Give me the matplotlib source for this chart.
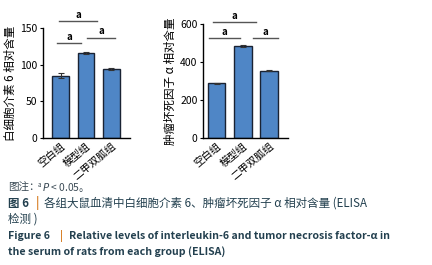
import numpy as np
import matplotlib.pyplot as plt

plt.rcParams['font.family'] = ['Noto Sans CJK SC', 'DejaVu Sans']
plt.rcParams['axes.unicode_minus'] = False

groups = ['空白组', '模型组', '二甲双胍组']
il6 = [85, 116, 94]
il6_err = [3, 1.5, 1]
tnf = [288, 486, 354]
tnf_err = [4, 6, 3]
# significance marks: (x1, x2, y) in data units
il6_sig = [(-0.06, 1.43, 160), (-0.14, 0.8, 129), (1.04, 2.14, 137)]
tnf_sig = [(-0.13, 1.5, 612), (-0.28, 0.9, 525), (1.37, 2.35, 525)]

bar_color = '#4f86c6'
edge_color = '#1a2333'

fig = plt.figure(figsize=(4.32, 2.65), dpi=100)
W, H = 432, 265


def make_ax(x0, x1, y0, y1):
    return fig.add_axes([x0 / W, 1 - y1 / H, (x1 - x0) / W, (y1 - y0) / H])


def draw(ax, vals, errs, sigs, ymax, step, ylabel, xlim):
    x = np.arange(len(vals))
    ax.bar(x, vals, width=0.66, color=bar_color, edgecolor=edge_color, linewidth=1.0, zorder=2)
    ax.errorbar(x, vals, yerr=errs, fmt='none', ecolor='#333333', elinewidth=0.8,
                capsize=2.5, capthick=0.8, zorder=3)
    ax.set_xlim(*xlim)
    ax.set_ylim(0, ymax)
    ax.set_yticks(np.arange(0, ymax + 1, step))
    ax.set_xticks(x)
    ax.set_xticklabels(groups, rotation=40, ha='right', rotation_mode='anchor', fontsize=7.5)
    ax.tick_params(axis='y', labelsize=7.5, length=2.5, width=0.8, pad=1.5)
    ax.tick_params(axis='x', length=0, pad=2)
    for s in ['top', 'right']:
        ax.spines[s].set_visible(False)
    for s in ['left', 'bottom']:
        ax.spines[s].set_linewidth(1.0)
    ax.set_ylabel(ylabel, fontsize=8.3, labelpad=2)
    for a, b, y in sigs:
        ax.plot([a, b], [y, y], color='#555555', lw=1.0, clip_on=False)
        ax.text((a + b) / 2, y + ymax * 0.01, 'a', ha='center', va='bottom', fontsize=7,
                fontweight='bold', clip_on=False)


ax1 = make_ax(43, 130, 28, 138)
draw(ax1, il6, il6_err, il6_sig, 150, 50, '白细胞介素 6 相对含量', (-0.69, 2.73))

ax2 = make_ax(203, 288, 24, 138)
draw(ax2, tnf, tnf_err, tnf_sig, 600, 200, '肿瘤坏死因子 α 相对含量', (-0.52, 2.72))

cap = '#23404f'


def ftext(x, y, s, **kw):
    kw.setdefault('color', cap)
    kw.setdefault('fontsize', 8.3)
    fig.text(x / W, 1 - y / H, s, va='center', ha='left', **kw)


ftext(8, 188, '图注：', color='#3a4a55', fontsize=7.6)
ftext(38, 185, 'a', color='#3a4a55', fontsize=4.5)
ftext(42, 188, '$P$ < 0.05。', color='#3a4a55', fontsize=7.4)
ftext(8, 203, '图 6', fontweight='bold')
ftext(36, 203, '|', color='#d9822b', fontweight='bold')
ftext(44, 203, '各组大鼠血清中白细胞介素 6、肿瘤坏死因子 α 相对含量 (ELISA')
ftext(8, 219, '检测 )')
ftext(8, 236, 'Figure 6', fontweight='bold', fontsize=7.6)
ftext(60, 236, '|', color='#d9822b', fontweight='bold', fontsize=7.6)
ftext(69, 236, 'Relative levels of interleukin-6 and tumor necrosis factor-α in',
      fontweight='bold', fontsize=7.6)
ftext(8, 252, 'the serum of rats from each group (ELISA)', fontweight='bold', fontsize=7.6)

fig.savefig('out.png', dpi=100)
